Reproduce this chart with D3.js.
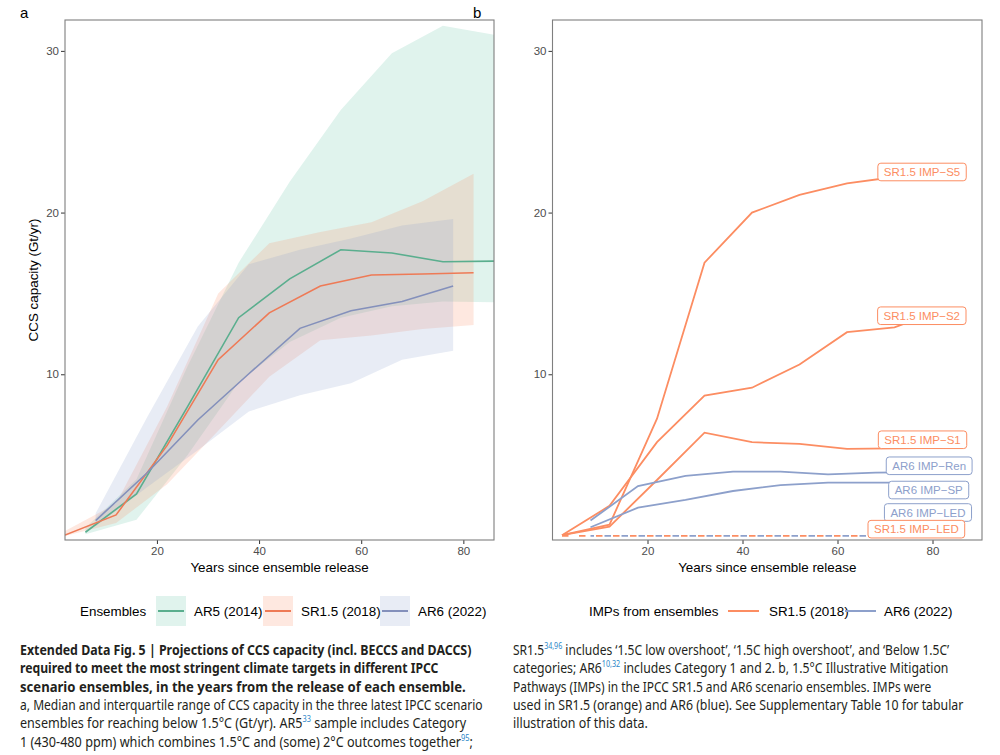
<!DOCTYPE html>
<html><head><meta charset="utf-8">
<script src="https://cdn.jsdelivr.net/npm/d3@7"></script>
<style>body{margin:0;background:#fff} svg{display:block}</style>
</head><body>
<svg id="c" width="1000" height="755"></svg>
<script>
// ---------- Panel a data (years since ensemble release, Gt/yr) ----------
const ar5Years  = [6, 16, 26, 36, 46, 56, 66, 76, 86];
const ar5Median = [0.23, 2.6, 8.0, 13.5, 15.9, 17.7, 17.5, 16.96, 17.0];
const ar5Lower  = [0.1, 1.0, 5.0, 9.5, 12.0, 13.5, 14.2, 14.5, 14.45];
const ar5Upper  = [0.5, 3.5, 10.5, 16.9, 21.9, 26.35, 29.85, 31.56, 31.0];

const sr15Years  = [2, 12, 22, 32, 42, 52, 62, 72, 82];
const sr15Median = [0.06, 1.3, 5.6, 10.9, 13.8, 15.46, 16.14, 16.2, 16.28];
const sr15Lower  = [0, 0.8, 3.2, 6.5, 9.85, 12.1, 12.4, 12.8, 13.05];
const sr15Upper  = [0.3, 2.0, 8.0, 15.0, 18.1, 18.8, 19.4, 20.7, 22.4];

const ar6Years  = [8, 18, 28, 38, 48, 58, 68, 78];
const ar6Median = [0.95, 3.88, 7.17, 10.03, 12.84, 13.93, 14.5, 15.46];
const ar6Lower  = [0.6, 3.0, 5.3, 7.7, 8.7, 9.44, 10.9, 11.46];
const ar6Upper  = [1.4, 7.3, 12.95, 16.8, 17.7, 18.4, 19.2, 19.6];

// ---------- Panel b data (IMPs) ----------
const impSRYears = [2, 12, 22, 32, 42, 52, 62, 72, 82];
const impS5  = [0.05, 0.7, 7.25, 16.9, 20.0, 21.09, 21.8, 22.2, 22.5];
const impS2  = [0.05, 1.86, 5.8, 8.68, 9.17, 10.6, 12.6, 12.9, 14.0];
const impS1  = [0.05, 0.58, 3.46, 6.39, 5.8, 5.69, 5.38, 5.42, 5.45];
const impSRLED = [0, 0, 0, 0, 0, 0, 0, 0, 0];
const impAR6Years = [8, 18, 28, 38, 48, 58, 68, 78];
const impRen = [0.95, 3.09, 3.71, 3.98, 3.98, 3.81, 3.92, 3.95];
const impSP  = [0.54, 1.75, 2.23, 2.78, 3.15, 3.3, 3.3, 3.3];
const impAR6LED = [0, 0, 0, 0, 0, 0, 0, 0];

const yTicks = [10, 20, 30];
const xTicks = [20, 40, 60, 80];
const ensembleNames = ["AR5 (2014)", "SR1.5 (2018)", "AR6 (2022)"];
const impGroupNames = ["SR1.5 (2018)", "AR6 (2022)"];
const impLabels = ["SR1.5 IMP\u2212S5", "SR1.5 IMP\u2212S2", "SR1.5 IMP\u2212S1", "AR6 IMP\u2212Ren", "AR6 IMP\u2212SP", "AR6 IMP\u2212LED", "SR1.5 IMP\u2212LED"];
// repelled label centres (data coords)
const labelX = [77.8, 77.75, 77.9, 79.3, 79.2, 79.05, 76.6];
const labelY = [22.51, 13.62, 5.95, 4.34, 2.84, 1.45, 0.42];

// ---------- styles ----------
const cGreen = "#66c2a5", cOrange = "#fc8d62", cBlue = "#8da0cb";
const lGreen = "#5aae8e", lOrange = "#ee7a56", lBlue = "#8490bb";
const axisFont = "'Liberation Sans', Arial, sans-serif";

const svg = d3.select("#c");

function frame(g, x, y, x0, x1, y0, y1, showYTitle) {
  const ax = g.append("g").attr("transform", `translate(0,${y1})`)
    .call(d3.axisBottom(x).tickValues(xTicks).tickSize(4).tickPadding(3));
  const ay = g.append("g").attr("transform", `translate(${x0},0)`)
    .call(d3.axisLeft(y).tickValues(yTicks).tickSize(4).tickPadding(2));
  [ax, ay].forEach(a => {
    a.select(".domain").remove();
    a.selectAll("line").attr("stroke", "#333").attr("stroke-width", 1);
    a.selectAll("text").attr("fill", "#4d4d4d").style("font-family", axisFont).style("font-size", "11.5px");
  });
  g.append("rect").attr("x", x0).attr("y", y0).attr("width", x1 - x0).attr("height", y1 - y0)
    .attr("fill", "none").attr("stroke", "#7f7f7f").attr("stroke-width", 1.1);
  g.append("text").attr("x", (x0 + x1) / 2).attr("y", 572).attr("text-anchor", "middle")
    .style("font-family", axisFont).style("font-size", "13.4px").attr("fill", "#000")
    .text("Years since ensemble release");
  if (showYTitle) {
    g.append("text").attr("transform", `translate(38,${(y0 + y1) / 2}) rotate(-90)`)
      .attr("text-anchor", "middle").style("font-family", axisFont).style("font-size", "13.4px")
      .text("CCS capacity (Gt/yr)");
  }
}

// ---------- Panel a ----------
const A = {x0: 65, x1: 494, y0: 20, y1: 540};
const xa = d3.scaleLinear().domain([2, 86]).range([A.x0, A.x1]);
const ya = d3.scaleLinear().domain([-0.25, 31.91]).range([A.y1, A.y0]);
const ga = svg.append("g");
svg.append("clipPath").attr("id", "clipA").append("rect")
  .attr("x", A.x0).attr("y", A.y0).attr("width", A.x1 - A.x0).attr("height", A.y1 - A.y0);

const ensembles = [
  {years: ar5Years, med: ar5Median, lo: ar5Lower, hi: ar5Upper, fill: cGreen, line: lGreen},
  {years: sr15Years, med: sr15Median, lo: sr15Lower, hi: sr15Upper, fill: cOrange, line: lOrange},
  {years: ar6Years, med: ar6Median, lo: ar6Lower, hi: ar6Upper, fill: cBlue, line: lBlue}
];
const plotA = ga.append("g").attr("clip-path", "url(#clipA)");
ensembles.forEach(e => {
  const pts = e.years.map((yr, i) => ({x: yr, lo: e.lo[i], hi: e.hi[i]}));
  plotA.append("path").datum(pts)
    .attr("d", d3.area().x(d => xa(d.x)).y0(d => ya(d.lo)).y1(d => ya(d.hi)))
    .attr("fill", e.fill).attr("fill-opacity", 0.2);
});
ensembles.forEach(e => {
  const pts = e.years.map((yr, i) => ({x: yr, v: e.med[i]}));
  plotA.append("path").datum(pts)
    .attr("d", d3.line().x(d => xa(d.x)).y(d => ya(d.v)))
    .attr("fill", "none").attr("stroke", e.line).attr("stroke-width", 1.6);
});
frame(ga, xa, ya, A.x0, A.x1, A.y0, A.y1, true);

// ---------- Panel b ----------
const B = {x0: 552.5, x1: 982, y0: 20, y1: 540};
const xb = d3.scaleLinear().domain([0, 90.42]).range([B.x0, B.x1]);
const yb = d3.scaleLinear().domain([-0.25, 31.91]).range([B.y1, B.y0]);
const gb = svg.append("g");
svg.append("clipPath").attr("id", "clipB").append("rect")
  .attr("x", B.x0).attr("y", B.y0).attr("width", B.x1 - B.x0).attr("height", B.y1 - B.y0);
const plotB = gb.append("g").attr("clip-path", "url(#clipB)");

const imps = [
  {years: impSRYears, v: impS5, c: cOrange, dash: null},
  {years: impSRYears, v: impS2, c: cOrange, dash: null},
  {years: impSRYears, v: impS1, c: cOrange, dash: null},
  {years: impAR6Years, v: impRen, c: cBlue, dash: null},
  {years: impAR6Years, v: impSP, c: cBlue, dash: null},
  {years: impSRYears, v: impSRLED, c: cOrange, dash: "6.5,10.5", off: 0},
  {years: impAR6Years, v: impAR6LED, c: cBlue, dash: "6.5,10.5", off: 3}
];
imps.forEach(m => {
  const pts = m.years.map((yr, i) => ({x: yr, v: m.v[i]}));
  const p = plotB.append("path").datum(pts)
    .attr("d", d3.line().x(d => xb(d.x)).y(d => yb(d.v)))
    .attr("fill", "none").attr("stroke", m.c).attr("stroke-width", 1.8);
  if (m.dash) p.attr("stroke-dasharray", m.dash).attr("stroke-dashoffset", m.off);
});
// labels
const labCols = [cOrange, cOrange, cOrange, cBlue, cBlue, cBlue, cOrange];
impLabels.forEach((t, i) => {
  const lg = plotB.append("g");
  const cx = xb(labelX[i]), cy = yb(labelY[i]);
  const rect = lg.append("rect");
  const tx = lg.append("text").attr("x", cx).attr("y", cy + 4).attr("text-anchor", "middle")
    .style("font-family", axisFont).style("font-size", "11.5px").attr("fill", labCols[i]).text(t);
  const w = tx.node().getComputedTextLength() + 12;
  rect.attr("x", cx - w / 2).attr("y", cy - 8.8).attr("width", w).attr("height", 17.6)
    .attr("rx", 3).attr("fill", "#fff").attr("stroke", labCols[i]).attr("stroke-width", 1);
});
frame(gb, xb, yb, B.x0, B.x1, B.y0, B.y1, false);

// panel letters
svg.append("text").attr("x", 20).attr("y", 18).style("font-family", axisFont).style("font-size", "15px").text("a");
svg.append("text").attr("x", 473).attr("y", 18).style("font-family", axisFont).style("font-size", "15px").text("b");

// ---------- legends ----------
const legY = 611;
const legA = svg.append("g").style("font-family", axisFont).style("font-size", "13.4px");
legA.append("text").attr("x", 80).attr("y", legY + 4.5).text("Ensembles");
const keyX = [156, 263, 380], txtX = [194, 301, 418];
ensembles.forEach((e, i) => {
  legA.append("rect").attr("x", keyX[i]).attr("y", legY - 15).attr("width", 30).attr("height", 30)
    .attr("fill", e.fill).attr("fill-opacity", 0.2);
  legA.append("line").attr("x1", keyX[i] + 2).attr("x2", keyX[i] + 28).attr("y1", legY).attr("y2", legY)
    .attr("stroke", e.line).attr("stroke-width", 2);
  legA.append("text").attr("x", txtX[i]).attr("y", legY + 4.5).text(ensembleNames[i]);
});
const legB = svg.append("g").style("font-family", axisFont).style("font-size", "13.4px");
legB.append("text").attr("x", 589).attr("y", legY + 4.5).text("IMPs from ensembles");
const kbX = [728, 845], tbX = [769, 884], kbC = [cOrange, cBlue];
impGroupNames.forEach((n, i) => {
  legB.append("line").attr("x1", kbX[i]).attr("x2", kbX[i] + 31).attr("y1", legY).attr("y2", legY)
    .attr("stroke", kbC[i]).attr("stroke-width", 2);
  legB.append("text").attr("x", tbX[i]).attr("y", legY + 4.5).text(n);
});

// ---------- caption ----------
const capFont = "'Noto Sans', 'Open Sans', sans-serif";
const supCol = "#2a86c8";
const capLines = [
  {x: 20, y: 655, end: 472, bold: true, parts: [["Extended Data Fig. 5 | Projections of CCS capacity (incl. BECCS and DACCS)"]]},
  {x: 20, y: 673.3, end: 439, bold: true, parts: [["required to meet the most stringent climate targets in different IPCC"]]},
  {x: 20, y: 691.7, end: 466, bold: true, parts: [["scenario ensembles, in the years from the release of each ensemble."]]},
  {x: 20, y: 710, end: 483, bold: false, parts: [["a, Median and interquartile range of CCS capacity in the three latest IPCC scenario"]]},
  {x: 20, y: 728.3, end: 467, bold: false, parts: [["ensembles for reaching below 1.5\u00b0C (Gt/yr). AR5"], ["33", 1], [" sample includes Category"]]},
  {x: 20, y: 746.7, end: 473, bold: false, parts: [["1 (430-480 ppm) which combines 1.5\u00b0C and (some) 2\u00b0C outcomes together"], ["95", 1], [";"]]},
  {x: 513, y: 655, end: 950, bold: false, parts: [["SR1.5"], ["34,96", 1], [" includes \u20181.5C low overshoot\u2019, \u20181.5C high overshoot\u2019, and \u2018Below 1.5C\u2019"]]},
  {x: 513, y: 673.3, end: 949, bold: false, parts: [["categories; AR6"], ["10,32", 1], [" includes Category 1 and 2. b, 1.5\u00b0C Illustrative Mitigation"]]},
  {x: 513, y: 691.7, end: 932, bold: false, parts: [["Pathways (IMPs) in the IPCC SR1.5 and AR6 scenario ensembles. IMPs were"]]},
  {x: 513, y: 710, end: 964, bold: false, parts: [["used in SR1.5 (orange) and AR6 (blue). See Supplementary Table 10 for tabular"]]},
  {x: 513, y: 728.3, end: 648, bold: false, parts: [["illustration of this data."]]}
];
capLines.forEach(L => {
  const g = svg.append("g");
  const t = g.append("text").attr("x", 0).attr("y", 0)
    .style("font-family", capFont).style("font-size", "14.5px")
    .style("font-weight", L.bold ? 700 : 400).attr("fill", "#231f20");
  L.parts.forEach(p => {
    const ts = t.append("tspan").text(p[0]);
    if (p[1]) ts.attr("fill", supCol).style("font-size", "8.5px").attr("dy", -6);
    else if (t.selectAll("tspan").size() > 1) ts.attr("dy", 6);
  });
  const w = t.node().getBBox().width;
  const sx = (L.end - L.x) / w;
  g.attr("transform", `translate(${L.x},${L.y}) scale(${sx},1)`);
});
</script>
</body></html>
